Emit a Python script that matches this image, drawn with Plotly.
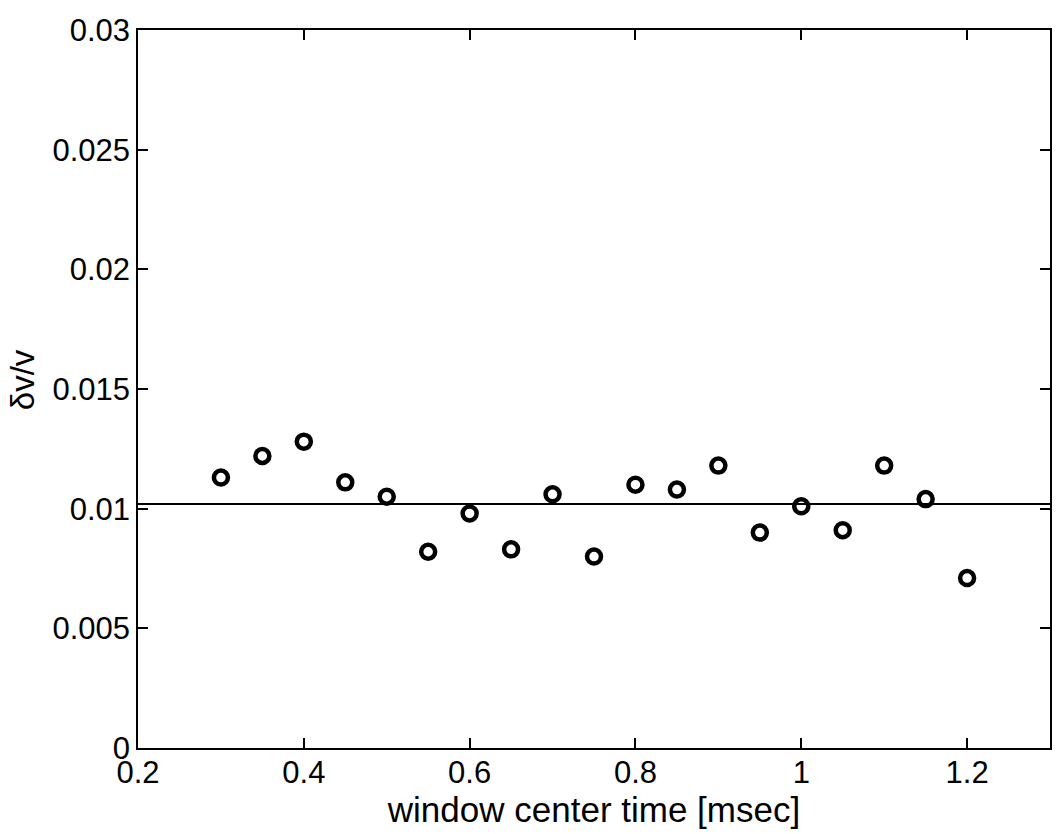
import plotly.graph_objects as go

# data
window_time = [0.30, 0.35, 0.40, 0.45, 0.50, 0.55, 0.60, 0.65, 0.70, 0.75,
               0.80, 0.85, 0.90, 0.95, 1.00, 1.05, 1.10, 1.15, 1.20]
dv_over_v = [0.0113, 0.0122, 0.0128, 0.0111, 0.0105, 0.0082, 0.0098, 0.0083,
             0.0106, 0.0080, 0.0110, 0.0108, 0.0118, 0.0090, 0.0101, 0.0091,
             0.0118, 0.0104, 0.0071]
mean_x = [0.2, 1.3]
mean_y = [0.0102, 0.0102]

x_ticks = [0.2, 0.4, 0.6, 0.8, 1.0, 1.2]
x_ticklabels = ["0.2", "0.4", "0.6", "0.8", "1", "1.2"]
y_ticks = [0, 0.005, 0.01, 0.015, 0.02, 0.025, 0.03]
y_ticklabels = ["0", "0.005", "0.01", "0.015", "0.02", "0.025", "0.03"]

FONT = "Arial, Liberation Sans, Helvetica, sans-serif"

fig = go.Figure()
fig.add_trace(go.Scatter(x=mean_x, y=mean_y, mode="lines",
                         line=dict(color="black", width=2), showlegend=False))
fig.add_trace(go.Scatter(x=window_time, y=dv_over_v, mode="markers",
                         marker=dict(symbol="circle-open", size=14, color="black",
                                     line=dict(width=4.5, color="black")),
                         showlegend=False))

axis_common = dict(showline=True, linecolor="black", linewidth=1.5, mirror="ticks",
                   ticks="inside", ticklen=10, tickwidth=1.5, tickcolor="black",
                   showgrid=False, zeroline=False,
                   tickfont=dict(family=FONT, size=31, color="black"))

fig.update_xaxes(range=[0.2, 1.3], tickvals=x_ticks, ticktext=x_ticklabels,
                 ticklabelstandoff=-4,
                 title=dict(text="window center time [msec]", standoff=0,
                            font=dict(family=FONT, size=35, color="black")),
                 **axis_common)
fig.update_yaxes(range=[0, 0.03], tickvals=y_ticks, ticktext=y_ticklabels,
                 **axis_common)

fig.add_annotation(text="δv/v", xref="paper", yref="paper", x=-0.127, y=0.5125,
                   xanchor="center", yanchor="middle", textangle=-90, showarrow=False,
                   font=dict(family=FONT, size=33, color="black"))

fig.update_layout(width=1056, height=834, plot_bgcolor="white", paper_bgcolor="white",
                  margin=dict(l=138, r=4, t=30, b=86))

fig.write_html("out.html")
